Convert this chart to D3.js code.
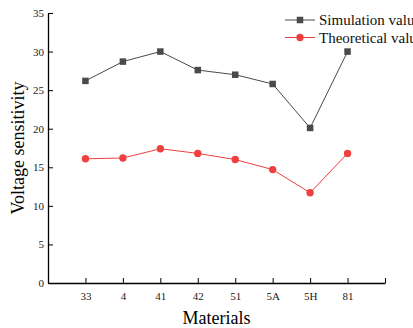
<!DOCTYPE html>
<html>
<head>
<meta charset="utf-8">
<script src="https://cdn.jsdelivr.net/npm/d3@7"></script>
<style>
body { margin: 0; background: #fff; }
text { font-family: "Liberation Serif", "Times New Roman", serif; }
</style>
</head>
<body>
<div id="chart"></div>
<script>
// values
var materials = ["33", "4", "41", "42", "51", "5A", "5H", "81"];
var simulation = [26.2, 28.7, 30.0, 27.6, 27.0, 25.8, 20.1, 30.0];
var theoretical = [16.1, 16.2, 17.4, 16.8, 16.0, 14.7, 11.7, 16.8];
var yTicks = [0, 5, 10, 15, 20, 25, 30, 35];

var width = 413, height = 328;
var margin = {left: 48, right: 28, top: 13, bottom: 45};

var svg = d3.select("#chart").append("svg")
    .attr("width", width).attr("height", height);

// one empty slot each side of the categories
var x = d3.scaleLinear()
    .domain([0, materials.length + 1])
    .range([margin.left, width - margin.right]);

var y = d3.scaleLinear()
    .domain([0, 35])
    .range([height - margin.bottom, margin.top]);

var xAxis = svg.append("g")
    .attr("transform", `translate(0,${height - margin.bottom})`)
    .call(d3.axisBottom(x)
        .tickValues(d3.range(1, materials.length + 2))
        .tickFormat(i => materials[i - 1] || "")
        .tickSizeInner(-5).tickSizeOuter(0).tickPadding(9));

var yAxis = svg.append("g")
    .attr("transform", `translate(${margin.left},0)`)
    .call(d3.axisLeft(y)
        .tickValues(yTicks)
        .tickSizeInner(-5).tickSizeOuter(0).tickPadding(4));

[xAxis, yAxis].forEach(g => {
    g.select(".domain").attr("stroke", "#000").attr("stroke-width", 1.3);
    g.selectAll(".tick line").attr("stroke", "#000").attr("stroke-width", 1);
    g.selectAll(".tick text")
        .style("font-family", "'Liberation Serif', serif")
        .style("font-size", "11px")
        .attr("fill", "#222");
});

svg.append("text")
    .attr("x", (margin.left + width - margin.right) / 2)
    .attr("y", 324)
    .attr("text-anchor", "middle")
    .style("font-size", "18px")
    .text("Materials");

svg.append("text")
    .attr("transform", `translate(24,${y(17.5)}) rotate(-90)`)
    .attr("text-anchor", "middle")
    .style("font-size", "18px")
    .text("Voltage sensitivity");

var line = d3.line()
    .x((d, i) => x(i + 1))
    .y(d => y(d));

var simColor = "#4a4a4a", theoColor = "#ef4040";

svg.append("path")
    .datum(simulation)
    .attr("d", line)
    .attr("fill", "none")
    .attr("stroke", simColor)
    .attr("stroke-width", 1);

svg.append("path")
    .datum(theoretical)
    .attr("d", line)
    .attr("fill", "none")
    .attr("stroke", theoColor)
    .attr("stroke-width", 1);

var s = 6.5;
svg.append("g").selectAll("rect")
    .data(simulation)
    .join("rect")
    .attr("x", (d, i) => x(i + 1) - s / 2)
    .attr("y", d => y(d) - s / 2)
    .attr("width", s).attr("height", s)
    .attr("fill", simColor);

svg.append("g").selectAll("circle")
    .data(theoretical)
    .join("circle")
    .attr("cx", (d, i) => x(i + 1))
    .attr("cy", d => y(d))
    .attr("r", 3.7)
    .attr("fill", theoColor);

// legend
var legend = svg.append("g").attr("transform", "translate(285,20)");
var items = [
    {name: "Simulation value", color: simColor, shape: "square"},
    {name: "Theoretical value", color: theoColor, shape: "circle"}
];
items.forEach((d, i) => {
    var row = legend.append("g").attr("transform", `translate(0,${i * 17.5})`);
    row.append("line")
        .attr("x1", 0).attr("x2", 30)
        .attr("stroke", d.color).attr("stroke-width", 1);
    if (d.shape == "square") {
        row.append("rect")
            .attr("x", 15 - s / 2).attr("y", -s / 2)
            .attr("width", s).attr("height", s)
            .attr("fill", d.color);
    } else {
        row.append("circle")
            .attr("cx", 15).attr("r", 3.7)
            .attr("fill", d.color);
    }
    row.append("text")
        .attr("x", 34).attr("y", 5)
        .style("font-size", "15px")
        .attr("fill", "#111")
        .text(d.name);
});
</script>
</body>
</html>
